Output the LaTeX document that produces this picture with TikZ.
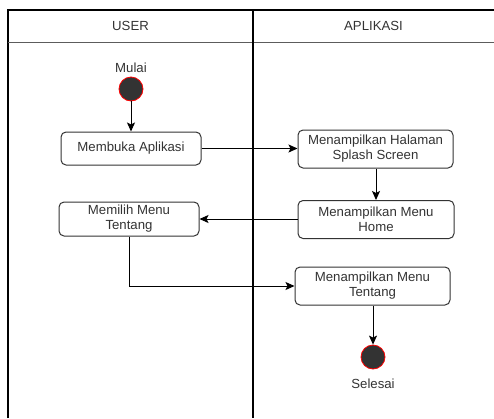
\documentclass[tikz,border=0pt]{standalone}
\usepackage{fontspec}
\setmainfont{Liberation Sans}
\usetikzlibrary{arrows.meta}

\definecolor{garis}{HTML}{333333}

\tikzset{
    aksi/.style={draw=garis, line width=1pt, rounded corners=5pt, align=center, inner sep=2pt, text=garis, font=\fontsize{13.2}{15}\selectfont},
    titik/.style={circle, fill=garis, draw=red, line width=0.8pt, minimum size=24pt, inner sep=0pt},
    label/.style={text=garis, font=\fontsize{13.2}{15}\selectfont},
    alur/.style={draw=black, line width=1pt, -{Stealth[length=9pt,width=8pt,inset=2pt]}}
}

\begin{document}
\begin{tikzpicture}[x=1pt, y=-1pt]
    \useasboundingbox (0,0) rectangle (494,418);

    % Draw the swimlanes
    \draw[line width=1.3pt] (8,418) -- (8,10) -- (494,10);
    \draw[line width=1pt, garis!80] (8,42) -- (494,42);
    \draw[line width=1.6pt] (253,10) -- (253,418);
    \node[label] (user) at (130.5,26) {USER};
    \node[label] (app) at (373.5,26) {APLIKASI};

    % Draw the start and end points
    \node[titik] (mulai) at (131,89) {};
    \node[label, above=0pt] (tmulai) at (mulai.north) {Mulai};
    \node[titik] (selesai) at (373,357) {};
    \node[label, below=6pt] (tselesai) at (selesai.south) {Selesai};

    % Draw the actions
    \node[aksi, minimum width=140pt, minimum height=33pt] (buka) at (131,148.5) {Membuka Aplikasi};
    \node[aksi, minimum width=155pt, minimum height=38pt] (splash) at (375.5,149) {Menampilkan Halaman\\Splash Screen};
    \node[aksi, minimum width=156pt, minimum height=38pt] (home) at (376,219.5) {Menampilkan Menu\\Home};
    \node[aksi, minimum width=140pt, minimum height=34pt] (pilih) at (129,219) {Memilih Menu\\Tentang};
    \node[aksi, minimum width=155pt, minimum height=38pt] (tentang) at (372.5,286) {Menampilkan Menu\\Tentang};

    % Draw the flow
    \draw[alur] (mulai) -- (buka);
    \draw[alur] (buka) -- (splash.west |- buka);
    \draw[alur] (splash.south -| home) -- (home);
    \draw[alur] (home.west |- pilih) -- (pilih);
    \draw[alur] (pilih.south) |- (tentang.west);
    \draw[alur] (tentang.south -| selesai) -- (selesai);
\end{tikzpicture}
\end{document}
